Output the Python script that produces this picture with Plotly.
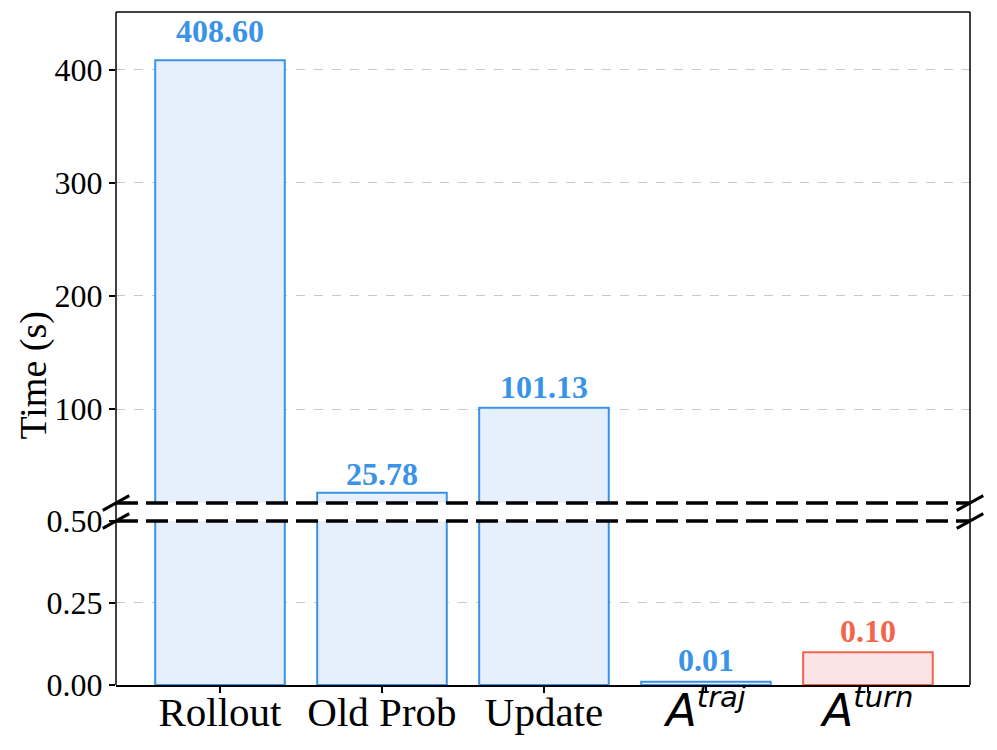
import plotly.graph_objects as go

# data
CATEGORIES = ['Rollout', 'Old Prob', 'Update', 'A_traj', 'A_turn']
TICK_LABELS = ['Rollout', 'Old Prob', 'Update',
               '<span style="font-family:DejaVu Sans;font-size:45px"><i>A</i>'
               '<sup><span style="font-size:29px"><i>traj</i></span></sup></span>',
               '<span style="font-family:DejaVu Sans;font-size:45px"><i>A</i>'
               '<sup><span style="font-size:29px"><i>turn</i></span></sup></span>']
TIMES = [408.60, 25.78, 101.13, 0.01, 0.10]
VALUE_LABELS = ['408.60', '25.78', '101.13', '0.01', '0.10']
IN_TOP = [True, True, True, False, False]

BLUE = '#3a93e6'
BLUE_FILL = '#e6effc'
RED = '#f2664b'
RED_FILL = '#fce4e6'
EDGE = [BLUE, BLUE, BLUE, BLUE, RED]
FILL = [BLUE_FILL, BLUE_FILL, BLUE_FILL, BLUE_FILL, RED_FILL]
LABEL_SHIFT = [9, -1, 1, 2, 1]

SERIF = 'Liberation Serif, Times New Roman, serif'

FIG = go.Figure()

# bottom panel (small values) and top panel (large values)
for xa, ya in [('x', 'y'), ('x2', 'y2')]:
    FIG.add_trace(go.Bar(x=CATEGORIES, y=TIMES, width=0.8,
                         marker=dict(color=FILL, line=dict(color=EDGE, width=2)),
                         xaxis=xa, yaxis=ya, showlegend=False, hoverinfo='skip'))

# value labels
for cat, val, lab, top, col, sh in zip(CATEGORIES, TIMES, VALUE_LABELS, IN_TOP, EDGE,
                                       LABEL_SHIFT):
    FIG.add_annotation(x=cat, y=val, text='<b>%s</b>' % lab,
                       xref='x2' if top else 'x', yref='y2' if top else 'y',
                       showarrow=False, yanchor='bottom', yshift=sh,
                       font=dict(family=SERIF, size=32, color=col))

# y title
FIG.add_annotation(x=-0.097, y=0.46, xref='paper', yref='paper', text='Time (s)',
                   textangle=-90, showarrow=False, xanchor='center', yanchor='middle',
                   font=dict(family=SERIF, size=38, color='black'))

BOT_TOP = 0.2437
TOP_BOT = 0.2704
XR = [-0.642, 4.63]

grid = dict(showgrid=True, gridcolor='#c8c8c8', griddash='dash', gridwidth=1,
            ticks='outside', ticklen=6, tickwidth=1.5, tickcolor='black',
            zeroline=False, showline=False, automargin=False,
            tickfont=dict(family=SERIF, size=32, color='black'))

FIG.update_layout(
    width=997, height=750,
    margin=dict(l=116, r=27, t=12, b=65, autoexpand=False),
    plot_bgcolor='white', paper_bgcolor='white',
    bargap=0.2,
    xaxis=dict(domain=[0, 1], range=XR, anchor='y', tickvals=CATEGORIES, ticktext=TICK_LABELS,
               ticks='outside', ticklen=6, tickwidth=1.5, tickcolor='black',
               showline=True, linecolor='black', linewidth=1.5, showgrid=False,
               automargin=False, ticklabelstandoff=-16,
               tickfont=dict(family=SERIF, size=41, color='black')),
    xaxis2=dict(domain=[0, 1], range=XR, anchor='y2', showticklabels=False,
                showgrid=False, ticks='', matches='x', automargin=False),
    yaxis=dict(domain=[0, BOT_TOP], range=[0, 0.5], tickvals=[0, 0.25, 0.5],
               ticktext=['0.00', '0.25', '0.50'], **grid),
    yaxis2=dict(domain=[TOP_BOT, 1], range=[16.8, 451.3], tickvals=[100, 200, 300, 400], **grid),
)

# frame: top spine, left/right spines running through the break
line = dict(color='black', width=1.5)
FIG.add_shape(type='line', xref='paper', yref='paper', x0=0, x1=1, y0=1, y1=1, line=line)
FIG.add_shape(type='line', xref='paper', yref='paper', x0=0, x1=0, y0=0, y1=1, line=line)
FIG.add_shape(type='line', xref='paper', yref='paper', x0=1, x1=1, y0=0, y1=1, line=line)

# white gap and dashed break lines
FIG.add_shape(type='rect', xref='paper', yref='paper', x0=0.002, x1=0.998,
              y0=BOT_TOP, y1=TOP_BOT, fillcolor='white', line=dict(width=0), layer='above')
for yy in [BOT_TOP, TOP_BOT]:
    FIG.add_shape(type='line', xref='paper', yref='paper', x0=0, x1=1, y0=yy, y1=yy,
                  line=dict(color='black', width=3.5, dash='22px,8px'))
    for xx in [0, 1]:
        FIG.add_shape(type='line', xref='paper', yref='paper',
                      x0=xx - 0.0155, x1=xx + 0.0155, y0=yy - 0.011, y1=yy + 0.011,
                      line=dict(color='black', width=3))

FIG.write_html('out.html', config={'displayModeBar': False},
               post_script="document.body.style.margin='0';")
